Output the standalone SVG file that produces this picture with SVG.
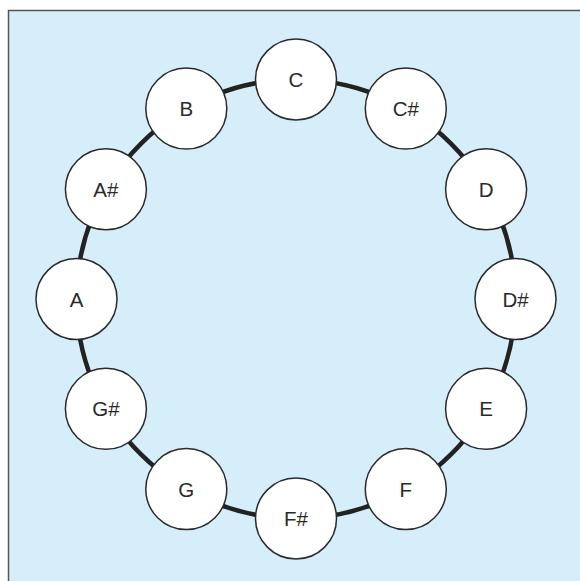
<svg xmlns="http://www.w3.org/2000/svg" width="580" height="581" viewBox="0 0 580 581">
<style>
.node circle{fill:#fff;stroke:#2a2a2a;stroke-width:1.5}
.node text{font-family:"Liberation Sans",Arial,sans-serif;font-size:20.5px;fill:#2a2a2a;text-anchor:middle;dominant-baseline:central}
</style>
<rect x="0" y="0" width="580" height="581" fill="#fff"/>
<rect x="8.5" y="10.5" width="580" height="580" fill="#d6edfa" stroke="#555" stroke-width="1.5"/>
<g id="connectors">
<circle cx="296" cy="299" r="219.5" fill="none" stroke="#222" stroke-width="4.5"/>
</g>
<g id="C" class="node"><circle cx="296" cy="79.5" r="40.5"/><text x="296" y="79.5">C</text></g>
<g id="Cs" class="node"><circle cx="405.8" cy="108.6" r="40.5"/><text x="405.8" y="108.6">C#</text></g>
<g id="D" class="node"><circle cx="486.1" cy="189.3" r="40.5"/><text x="486.1" y="189.3">D</text></g>
<g id="Ds" class="node"><circle cx="515.5" cy="299" r="40.5"/><text x="515.5" y="299">D#</text></g>
<g id="E" class="node"><circle cx="486.1" cy="408.8" r="40.5"/><text x="486.1" y="408.8">E</text></g>
<g id="F" class="node"><circle cx="405.8" cy="489.1" r="40.5"/><text x="405.8" y="489.1">F</text></g>
<g id="Fs" class="node"><circle cx="296" cy="518.5" r="40.5"/><text x="296" y="518.5">F#</text></g>
<g id="G" class="node"><circle cx="186.3" cy="489.1" r="40.5"/><text x="186.3" y="489.1">G</text></g>
<g id="Gs" class="node"><circle cx="105.9" cy="408.8" r="40.5"/><text x="105.9" y="408.8">G#</text></g>
<g id="A" class="node"><circle cx="76.5" cy="299" r="40.5"/><text x="76.5" y="299">A</text></g>
<g id="As" class="node"><circle cx="105.9" cy="189.3" r="40.5"/><text x="105.9" y="189.3">A#</text></g>
<g id="B" class="node"><circle cx="186.3" cy="108.6" r="40.5"/><text x="186.3" y="108.6">B</text></g>
</svg>
